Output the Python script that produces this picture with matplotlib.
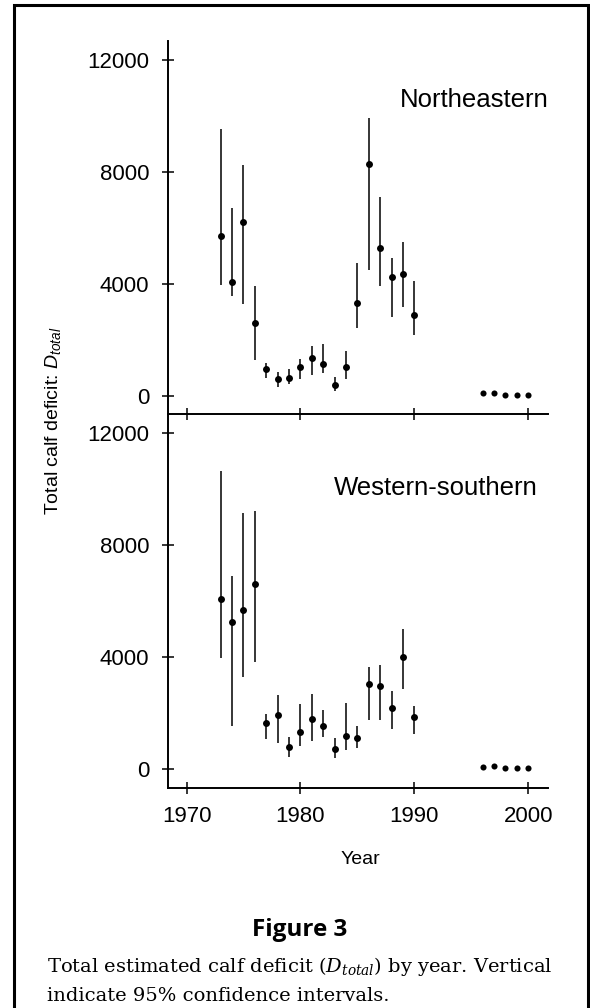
import matplotlib
matplotlib.use("Agg")
import matplotlib.pyplot as plt
from matplotlib.patches import Rectangle
import numpy as np

# ---- data ----
years = [1973, 1974, 1975, 1976, 1977, 1978, 1979, 1980, 1981, 1982,
         1983, 1984, 1985, 1986, 1987, 1988, 1989, 1990]
ne_est = [5710, 4060, 6200, 2600, 950, 620, 640, 1040, 1370, 1150,
          390, 1020, 3330, 8300, 5290, 4250, 4360, 2880]
ne_lo = [3960, 3570, 3290, 1290, 650, 330, 420, 620, 750, 830,
         170, 600, 2440, 4500, 3930, 2810, 3190, 2180]
ne_hi = [9540, 6700, 8260, 3920, 1190, 850, 980, 1310, 1790, 1850,
         680, 1610, 4760, 9940, 7120, 4920, 5510, 4110]

ws_est = [6080, 5260, 5670, 6600, 1660, 1920, 780, 1340, 1780, 1540,
          730, 1190, 1110, 3040, 2970, 2170, 4020, 1870]
ws_lo = [3980, 1550, 3280, 3840, 1070, 920, 440, 810, 1000, 1130,
         400, 690, 760, 1760, 1740, 1430, 2850, 1260]
ws_hi = [10650, 6900, 9140, 9220, 1970, 2630, 1130, 2320, 2690, 2100,
         1100, 2360, 1530, 3640, 3710, 2790, 4990, 2250]

late_years = [1996, 1997, 1998, 1999, 2000]
ne_late = [120, 110, 50, 50, 50]
ws_late = [70, 120, 35, 35, 35]

yticks = [0, 4000, 8000, 12000]
xticks = [1970, 1980, 1990, 2000]

# ---- figure ----
W, H = 590, 1008
fig = plt.figure(figsize=(W / 100, H / 100), dpi=100)
fig.patch.set_facecolor("white")

def fx(px):
    return px / W

def fy(py):
    return 1 - py / H

left, right = 167.5, 547.5
ax_top = fig.add_axes([fx(left), fy(414), fx(right) - fx(left), fy(41) - fy(414)])
ax_bot = fig.add_axes([fx(left), fy(788), fx(right) - fx(left), fy(414) - fy(788)])

sans = "Liberation Sans"

def style(ax, est, lo, hi, late, ylim, show_xlabels):
    est = np.array(est); lo = np.array(lo); hi = np.array(hi)
    ax.vlines(years, lo, hi, color="black", lw=1.1)
    ax.plot(years, est, "o", color="black", ms=5.0, mew=0)
    ax.plot(late_years, late, "o", color="black", ms=4.4, mew=0)
    ax.set_xlim(1968.33, 2001.69)
    ax.set_ylim(*ylim)
    for s in ["top", "right"]:
        ax.spines[s].set_visible(False)
    for s in ["left", "bottom"]:
        ax.spines[s].set_linewidth(1.4)
    ax.set_xticks(xticks)
    ax.set_yticks(yticks)
    ax.tick_params(axis="both", direction="inout", length=8.5, width=1.1,
                   pad=9, labelsize=16)
    ax.tick_params(axis="x", labelbottom=show_xlabels)
    for lab in ax.get_xticklabels() + ax.get_yticklabels():
        lab.set_fontfamily(sans)
    ax.patch.set_alpha(0)

style(ax_top, ne_est, ne_lo, ne_hi, ne_late, (-643, 12679), False)
style(ax_bot, ws_est, ws_lo, ws_hi, ws_late, (-679, 12690), True)

fig.text(fx(400), fy(100), "Northeastern", fontsize=18.5, family=sans,
         ha="left", va="center")
fig.text(fx(334), fy(488), "Western-southern", fontsize=18.5, family=sans,
         ha="left", va="center")

plt.rcParams["mathtext.fontset"] = "custom"
plt.rcParams["mathtext.rm"] = "Liberation Sans"
plt.rcParams["mathtext.it"] = "Liberation Sans:italic"

fig.text(fx(53), fy(421), r"Total calf deficit: $\mathit{D}_{\mathit{total}}$",
         rotation=90, fontsize=14, family=sans, ha="center", va="center",
         math_fontfamily="custom")
fig.text(fx(360.5), fy(860), "Year", fontsize=14, family=sans,
         ha="center", va="center")

fig.text(fx(300), fy(930), "Figure 3", fontsize=17.5, family="Open Sans",
         fontweight="bold", ha="center", va="center")
fig.text(fx(47), fy(966),
         r"Total estimated calf deficit ($D_{total}$) by year. Vertical",
         fontsize=14, family="DejaVu Serif", ha="left", va="center",
         math_fontfamily="dejavuserif")
fig.text(fx(47), fy(996), "indicate 95% confidence intervals.",
         fontsize=14, family="DejaVu Serif", ha="left", va="center")

frame = Rectangle((fx(14), fy(1020)), fx(588) - fx(14), fy(5) - fy(1020),
                  transform=fig.transFigure, fill=False, lw=2.2,
                  edgecolor="black", clip_on=False)
fig.patches.append(frame)

fig.savefig("out.png", dpi=100, facecolor="white")
